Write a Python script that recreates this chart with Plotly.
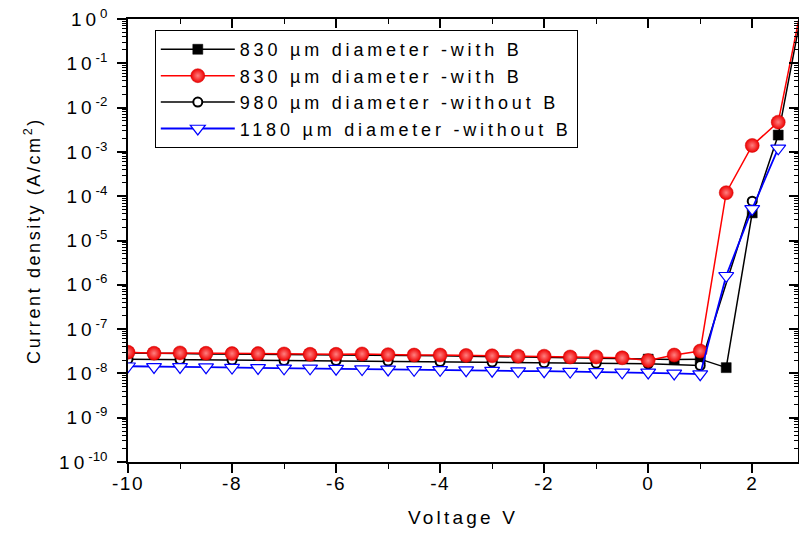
import plotly.graph_objects as go

# ---- data ----
v_half = [-10, -9.5, -9, -8.5, -8, -7.5, -7, -6.5, -6, -5.5, -5, -4.5, -4, -3.5,
          -3, -2.5, -2, -1.5, -1, -0.5, 0, 0.5, 1, 1.5, 2, 2.5, 3]
j_830_sq = [2.9e-8, 2.8e-8, 2.8e-8, 2.75e-8, 2.75e-8, 2.7e-8, 2.7e-8, 2.65e-8, 2.6e-8,
            2.6e-8, 2.55e-8, 2.5e-8, 2.5e-8, 2.45e-8, 2.4e-8, 2.4e-8, 2.35e-8, 2.3e-8,
            2.25e-8, 2.2e-8, 2.1e-8, 2.05e-8, 2.1e-8, 1.35e-8, 4.2e-5, 2.4e-3, 3.0]

j_830_ci = [3.0e-8, 2.85e-8, 2.9e-8, 2.85e-8, 2.8e-8, 2.8e-8, 2.75e-8, 2.7e-8, 2.7e-8,
            2.75e-8, 2.65e-8, 2.6e-8, 2.6e-8, 2.55e-8, 2.5e-8, 2.45e-8, 2.45e-8, 2.35e-8,
            2.35e-8, 2.25e-8, 1.95e-8, 2.6e-8, 3.2e-8, 1.2e-4, 1.4e-3, 4.7e-3, 4.0]

v_int = [-10, -9, -8, -7, -6, -5, -4, -3, -2, -1, 0, 1, 2]
j_980 = [2.1e-8, 2.05e-8, 2.0e-8, 1.95e-8, 1.95e-8, 1.9e-8, 1.85e-8, 1.8e-8, 1.75e-8,
         1.7e-8, 1.65e-8, 1.5e-8, 7.7e-5]

v_1180 = [-10, -9.5, -9, -8.5, -8, -7.5, -7, -6.5, -6, -5.5, -5, -4.5, -4, -3.5,
          -3, -2.5, -2, -1.5, -1, -0.5, 0, 0.5, 1, 1.5, 2, 2.5]
j_1180 = [1.45e-8, 1.4e-8, 1.4e-8, 1.38e-8, 1.35e-8, 1.33e-8, 1.3e-8, 1.3e-8, 1.28e-8,
          1.25e-8, 1.23e-8, 1.2e-8, 1.2e-8, 1.18e-8, 1.15e-8, 1.13e-8, 1.12e-8, 1.1e-8,
          1.08e-8, 1.06e-8, 1.05e-8, 1.0e-8, 9.6e-9, 1.6e-6, 5.2e-5, 1.2e-3]

names = ["830 \u00b5m diameter -with B", "830 \u00b5m diameter -with B",
         "980 \u00b5m diameter -without B", "1180 \u00b5m diameter -without B"]

y_exp = [0, -1, -2, -3, -4, -5, -6, -7, -8, -9, -10]
x_ticks = [-10, -8, -6, -4, -2, 0, 2]

FONT = "Liberation Sans, Arial, sans-serif"


def sp(t, s):
    return '<span style="letter-spacing:%spx">%s</span>' % (s, t)


fig = go.Figure()

fig.add_trace(go.Scatter(
    x=v_half, y=j_830_sq, name=sp(names[0], 3.8), legendrank=1,
    mode="lines+markers", line=dict(color="black", width=1.5),
    marker=dict(symbol="square", size=10, color="black",
                line=dict(color="black", width=0.5))))

fig.add_trace(go.Scatter(
    x=v_int, y=j_980, name=sp(names[2], 3.8), legendrank=3,
    mode="lines+markers", line=dict(color="black", width=1.5),
    marker=dict(symbol="circle", size=9, color="white",
                line=dict(color="black", width=2))))

fig.add_trace(go.Scatter(
    x=v_half, y=j_830_ci, name=sp(names[1], 3.8), legendrank=2,
    mode="lines+markers", line=dict(color="red", width=1.5),
    marker=dict(symbol="circle", size=14, color="#ee0000",
                gradient=dict(type="radial", color="#ff8080"),
                line=dict(color="#d00000", width=0.5))))

fig.add_trace(go.Scatter(
    x=v_1180, y=j_1180, name=sp(names[3], 3.8), legendrank=4,
    mode="lines+markers", line=dict(color="blue", width=1.8),
    marker=dict(symbol="triangle-down", size=13, color="white",
                line=dict(color="blue", width=1.2))))

axis_common = dict(showline=True, linecolor="black", linewidth=1.5,
                   showgrid=False, zeroline=False)

fig.update_layout(
    width=799, height=533,
    margin=dict(l=128, r=1, t=19, b=71),
    paper_bgcolor="white", plot_bgcolor="white",
    font=dict(family=FONT, color="black", size=18),
    showlegend=True,
    legend=dict(x=0.04, y=0.975, xanchor="left", yanchor="top",
                bgcolor="white", bordercolor="black", borderwidth=1,
                font=dict(size=18, family=FONT), itemwidth=74,
                tracegroupgap=0, traceorder="normal"),
    xaxis=dict(range=[-10, 2.88], tickmode="array", tickvals=x_ticks,
               ticktext=[sp(str(t), 1.5) for t in x_ticks],
               ticks="outside", ticklen=9, tickwidth=1.5, tickcolor="black",
               ticklabelstandoff=-6,
               minor=dict(dtick=1, ticks="outside", ticklen=5, tickwidth=1.2,
                          tickcolor="black"),
               tickfont=dict(size=19),
               title=dict(text=sp("Voltage V", 3.2), font=dict(size=19), standoff=18),
               **axis_common),
    yaxis=dict(type="log", range=[-10, 0], tickmode="array",
               tickvals=[10 ** e for e in y_exp],
               ticktext=[sp("10", 4) + "<sup>%d</sup>" % e for e in y_exp],
               ticks="outside", ticklen=9, tickwidth=1.5, tickcolor="black",
               ticklabelstandoff=6,
               minor=dict(dtick="D1", ticks="outside", ticklen=4, tickwidth=1,
                          tickcolor="black"),
               tickfont=dict(size=19),
               title=dict(text=sp("Current density (A/cm<sup>2</sup>)", 2.6),
                          font=dict(size=18), standoff=14),
               **axis_common),
    xaxis2=dict(overlaying="x", side="top", matches="x", range=[-10, 2.88],
                tickmode="array", tickvals=x_ticks, showticklabels=False,
                ticks="inside", ticklen=9, tickwidth=1.5, tickcolor="black",
                minor=dict(dtick=1, ticks="inside", ticklen=5, tickwidth=1.2,
                           tickcolor="black"),
                anchor="y", **axis_common),
    yaxis2=dict(overlaying="y", side="right", type="log", range=[-10, 0],
                tickmode="array", tickvals=[10 ** e for e in y_exp],
                showticklabels=False,
                ticks="inside", ticklen=9, tickwidth=1.5, tickcolor="black",
                minor=dict(dtick="D1", ticks="inside", ticklen=4, tickwidth=1,
                           tickcolor="black"),
                anchor="x", **axis_common),
)

# invisible trace to activate the mirrored axes
fig.add_trace(go.Scatter(x=[-10], y=[1e-10], xaxis="x2", yaxis="y2",
                         mode="markers", marker=dict(opacity=0),
                         showlegend=False, hoverinfo="skip"))

fig.write_html("out.html", config={"displayModeBar": False},
               post_script="document.body.style.margin='0';document.body.style.overflow='hidden';")
